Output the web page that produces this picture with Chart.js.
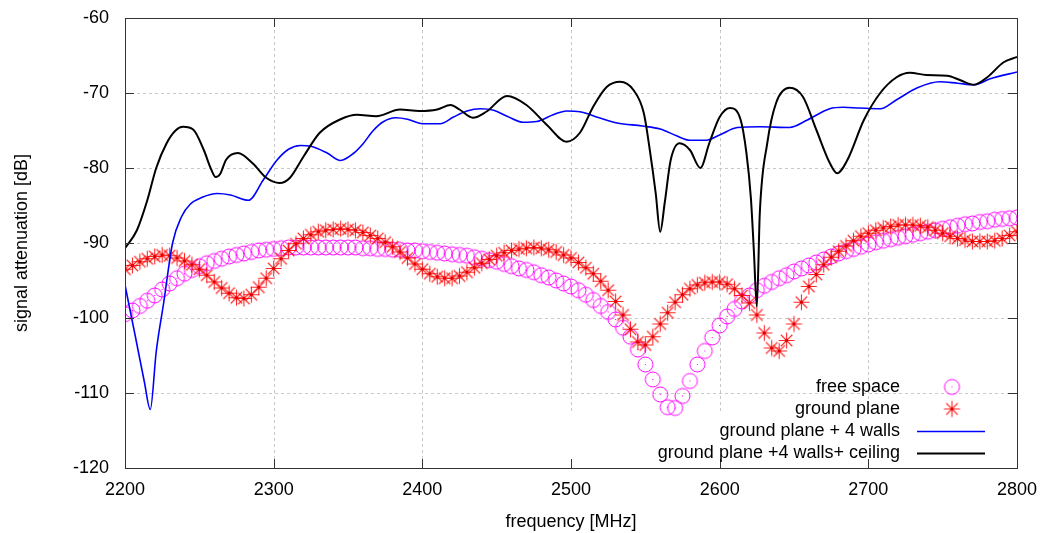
<!DOCTYPE html>
<html>
<head>
<meta charset="utf-8">
<script src="https://cdn.jsdelivr.net/npm/chart.js@4"></script>
<style>
  body { margin: 0; background: #fff; }
  #chart { display: block; }
</style>
</head>
<body>
<canvas id="chart" width="1040" height="533"></canvas>
<script>
// frequency grid of the two point series (MHz)
const freqs = [
  2200, 2205, 2210, 2215, 2220, 2225, 2230, 2235, 2240, 2245, 2250, 2255, 2260, 2265, 2270, 2275, 2280, 2285, 2290, 2295,
  2300, 2305, 2310, 2315, 2320, 2325, 2330, 2335, 2340, 2345, 2350, 2355, 2360, 2365, 2370, 2375, 2380, 2385, 2390, 2395,
  2400, 2405, 2410, 2415, 2420, 2425, 2430, 2435, 2440, 2445, 2450, 2455, 2460, 2465, 2470, 2475, 2480, 2485, 2490, 2495,
  2500, 2505, 2510, 2515, 2520, 2525, 2530, 2535, 2540, 2545, 2550, 2555, 2560, 2565, 2570, 2575, 2580, 2585, 2590, 2595,
  2600, 2605, 2610, 2615, 2620, 2625, 2630, 2635, 2640, 2645, 2650, 2655, 2660, 2665, 2670, 2675, 2680, 2685, 2690, 2695,
  2700, 2705, 2710, 2715, 2720, 2725, 2730, 2735, 2740, 2745, 2750, 2755, 2760, 2765, 2770, 2775, 2780, 2785, 2790, 2795,
  2800
];

const freeSpace = [
  -99.5, -99.0, -98.4, -97.7, -97.0, -96.2, -95.4, -94.7, -94.1, -93.6, -93.1, -92.7, -92.4, -92.1, -91.8, -91.6, -91.4, -91.2, -91.0, -90.9,
  -90.8, -90.7, -90.6, -90.6, -90.6, -90.6, -90.6, -90.6, -90.6, -90.6, -90.6, -90.6, -90.7, -90.7, -90.8, -90.8, -90.9, -90.9, -91.0, -91.0,
  -91.1, -91.2, -91.3, -91.4, -91.5, -91.6, -91.7, -91.9, -92.1, -92.3, -92.5, -92.8, -93.1, -93.4, -93.6, -93.9, -94.3, -94.6, -95.0, -95.4,
  -95.8, -96.3, -96.9, -97.6, -98.4, -99.2, -100.2, -101.3, -102.5, -104.2, -106.2, -108.2, -110.2, -111.9, -112.0, -110.4, -108.4, -106.2, -104.4, -102.6,
  -101.0, -99.8, -98.8, -97.8, -97.0, -96.3, -95.7, -95.2, -94.7, -94.3, -93.8, -93.4, -93.0, -92.6, -92.2, -91.8, -91.4, -91.1, -90.8, -90.5,
  -90.2, -89.9, -89.7, -89.5, -89.3, -89.1, -88.9, -88.7, -88.5, -88.3, -88.1, -87.9, -87.7, -87.5, -87.4, -87.2, -87.1, -86.9, -86.8, -86.7,
  -86.6
];

const groundPlane = [
  -93.5, -93.0, -92.5, -92.1, -91.8, -91.6, -91.7, -92.0, -92.4, -92.9, -93.5, -94.3, -95.2, -96.0, -96.7, -97.3, -97.4, -96.9, -95.9, -94.7,
  -93.4, -92.1, -91.0, -90.1, -89.4, -88.9, -88.5, -88.3, -88.2, -88.1, -88.2, -88.3, -88.6, -89.0, -89.4, -89.9, -90.5, -91.2, -92.0, -92.8,
  -93.5, -94.1, -94.5, -94.7, -94.7, -94.4, -93.9, -93.3, -92.7, -92.2, -91.7, -91.3, -91.0, -90.8, -90.7, -90.6, -90.7, -90.9, -91.2, -91.6,
  -92.0, -92.6, -93.3, -94.1, -95.1, -96.3, -97.8, -99.6, -101.5, -103.2, -103.6, -102.5, -100.8, -99.3, -97.9, -96.9, -96.1, -95.6, -95.3, -95.2,
  -95.2, -95.5, -96.1, -97.0, -98.0, -99.6, -102.0, -104.0, -104.4, -103.0, -100.8, -97.9, -95.8, -94.2, -92.9, -91.9, -91.1, -90.4, -89.7, -89.1,
  -88.7, -88.3, -88.0, -87.8, -87.6, -87.6, -87.6, -87.7, -87.9, -88.3, -88.7, -89.1, -89.4, -89.6, -89.8, -89.8, -89.8, -89.7, -89.4, -89.0,
  -88.5
];

// ground plane + 4 walls
const wallsFreq = [
  2200, 2207, 2213, 2217, 2221, 2226, 2232, 2238, 2244, 2252, 2262, 2271, 2283, 2293, 2302, 2310, 2318, 2325, 2336, 2345,
  2354, 2360, 2367, 2374, 2382, 2390, 2400, 2412, 2421, 2430, 2439, 2448, 2457, 2468, 2477, 2488, 2497, 2506, 2519, 2531,
  2548, 2560, 2571, 2580, 2591, 2600, 2612, 2627, 2647, 2659, 2674, 2683, 2694, 2708, 2719, 2733, 2748, 2760, 2771, 2782,
  2800
];
const wallsDb = [
  -95.6, -102.5, -108.5, -112.2, -104.5, -98.0, -90.0, -86.5, -84.8, -83.9, -83.4, -83.6, -84.3, -81.6, -79.0, -77.5, -77.0, -77.1, -78.0, -79.0,
  -78.0, -76.8, -75.0, -73.8, -73.3, -73.5, -74.1, -74.1, -73.2, -72.4, -72.1, -72.3, -73.1, -73.9, -73.8, -72.9, -72.4, -72.5, -73.3, -74.0,
  -74.4, -74.8, -75.7, -76.3, -76.3, -75.6, -74.6, -74.5, -74.6, -73.6, -72.1, -71.9, -72.0, -72.1, -70.9, -69.3, -68.5, -68.7, -68.9, -68.1,
  -67.2
];

// ground plane + 4 walls + ceiling
const ceilingFreq = [
  2200, 2208, 2215, 2221, 2228, 2234, 2239, 2246, 2253, 2258, 2261, 2264, 2268, 2276, 2286, 2295, 2304, 2311, 2320, 2331,
  2345, 2356, 2369, 2385, 2398, 2410, 2419, 2425, 2434, 2443, 2457, 2470, 2484, 2497, 2506, 2515, 2524, 2533, 2542, 2549,
  2553, 2557, 2560, 2563, 2567, 2573, 2580, 2587, 2593, 2600, 2607, 2614, 2618, 2621, 2623, 2625, 2627, 2632, 2638, 2647,
  2656, 2665, 2674, 2679, 2686, 2697, 2708, 2719, 2728, 2739, 2753, 2762, 2771, 2780, 2791, 2800
];
const ceilingDb = [
  -90.7, -88.3, -84.3, -80.0, -76.7, -75.0, -74.5, -74.9, -77.6, -80.2, -81.2, -80.8, -78.9, -78.0, -79.4, -81.3, -82.0, -81.3, -78.5, -75.3,
  -73.5, -72.9, -73.1, -72.2, -72.4, -72.2, -71.6, -72.2, -73.3, -72.5, -70.4, -71.6, -74.3, -76.5, -75.3, -71.8, -69.2, -68.5, -69.6, -72.7,
  -77.6, -83.4, -88.5, -84.7, -79.0, -76.7, -77.6, -80.0, -76.7, -73.2, -72.0, -73.5, -78.0, -84.0, -91.0, -98.5, -86.0, -76.7, -71.3, -69.3,
  -70.5, -74.9, -79.3, -80.7, -78.9, -73.6, -70.0, -67.9, -67.3, -67.6, -67.7, -68.3, -68.9, -67.9, -65.9, -65.2
];

const seriesNames = ['free space', 'ground plane', 'ground plane + 4 walls', 'ground plane +4 walls+ ceiling'];
const xTicks = [2200, 2300, 2400, 2500, 2600, 2700, 2800];
const yTicks = [-120, -110, -100, -90, -80, -70, -60];

const FONT = "'Liberation Sans', Arial, sans-serif";
const FONT_SIZE = 18;

function pairs(xs, ys) {
  return xs.map((x, i) => ({ x: x, y: ys[i] }));
}

// gnuplot-like markers: open circle with dot, asterisk with dot
function circleMarker() {
  const c = document.createElement('canvas');
  c.width = 19; c.height = 19;
  const g = c.getContext('2d');
  g.strokeStyle = '#ff00ff';
  g.lineWidth = 1;
  g.beginPath();
  g.arc(9.5, 9.5, 7.5, 0, Math.PI * 2);
  g.stroke();
  g.fillStyle = '#ff00ff';
  g.fillRect(9, 9, 1, 1);
  return c;
}

function starMarker() {
  const c = document.createElement('canvas');
  c.width = 19; c.height = 19;
  const g = c.getContext('2d');
  g.strokeStyle = 'rgba(255,0,0,0.85)';
  g.lineWidth = 1.1;
  const r = 8;
  g.beginPath();
  g.moveTo(9.5 - r, 9.5); g.lineTo(9.5 + r, 9.5);
  g.moveTo(9.5, 9.5 - r); g.lineTo(9.5, 9.5 + r);
  g.moveTo(9.5 - r * 0.72, 9.5 - r * 0.72); g.lineTo(9.5 + r * 0.72, 9.5 + r * 0.72);
  g.moveTo(9.5 - r * 0.72, 9.5 + r * 0.72); g.lineTo(9.5 + r * 0.72, 9.5 - r * 0.72);
  g.stroke();
  g.fillStyle = '#e00000';
  g.fillRect(8, 8, 3, 3);
  return c;
}

const circleImg = circleMarker();
const starImg = starMarker();

// key area inside the plot where the grid is not drawn
const keyBox = { x1: 2416, y1: -112.7 };

const gnuplotFrame = {
  id: 'gnuplotFrame',
  beforeDatasetsDraw(chart) {
    const { ctx, chartArea: a, scales: { x, y } } = chart;
    ctx.save();
    ctx.strokeStyle = '#c8c8c8';
    ctx.lineWidth = 1;
    ctx.setLineDash([3, 3]);
    const kx = x.getPixelForValue(keyBox.x1);
    const ky = y.getPixelForValue(keyBox.y1);
    ctx.beginPath();
    xTicks.slice(1, -1).forEach(v => {
      const px = Math.round(x.getPixelForValue(v)) + 0.5;
      ctx.moveTo(px, a.top);
      ctx.lineTo(px, px > kx ? ky : a.bottom);
    });
    yTicks.slice(1, -1).forEach(v => {
      const py = Math.round(y.getPixelForValue(v)) + 0.5;
      ctx.moveTo(a.left, py);
      ctx.lineTo(py > ky ? kx : a.right, py);
    });
    ctx.stroke();
    ctx.restore();
  },
  afterDraw(chart) {
    const { ctx, chartArea: a, scales: { x, y } } = chart;
    ctx.save();
    // frame
    ctx.strokeStyle = '#333';
    ctx.lineWidth = 1;
    ctx.strokeRect(Math.round(a.left) + 0.5, Math.round(a.top) + 0.5,
      Math.round(a.right - a.left), Math.round(a.bottom - a.top));
    // inward ticks on all four sides
    const tl = 9;
    ctx.beginPath();
    xTicks.forEach(v => {
      const px = Math.round(x.getPixelForValue(v)) + 0.5;
      ctx.moveTo(px, a.bottom); ctx.lineTo(px, a.bottom - tl);
      ctx.moveTo(px, a.top); ctx.lineTo(px, a.top + tl);
    });
    yTicks.forEach(v => {
      const py = Math.round(y.getPixelForValue(v)) + 0.5;
      ctx.moveTo(a.left, py); ctx.lineTo(a.left + tl, py);
      ctx.moveTo(a.right, py); ctx.lineTo(a.right - tl, py);
    });
    ctx.stroke();

    // key, gnuplot style: right aligned text, sample on the right
    ctx.font = FONT_SIZE + 'px ' + FONT;
    ctx.fillStyle = '#000';
    ctx.textAlign = 'right';
    ctx.textBaseline = 'middle';
    const rows = [387, 409, 431, 453];
    const textRight = 900;
    chart.data.datasets.forEach((ds, i) => {
      const ry = rows[i];
      ctx.fillText(seriesNames[i], textRight, ry);
      if (ds.showLine) {
        ctx.strokeStyle = ds.borderColor;
        ctx.lineWidth = ds.borderWidth;
        ctx.beginPath();
        ctx.moveTo(917, ry + 0.5);
        ctx.lineTo(985, ry + 0.5);
        ctx.stroke();
      } else {
        const img = ds.pointStyle;
        ctx.drawImage(img, 952 - img.width / 2, ry - img.height / 2);
      }
    });
    ctx.restore();
  }
};

new Chart(document.getElementById('chart'), {
  type: 'scatter',
  data: {
    datasets: [
      {
        label: seriesNames[0],
        data: pairs(freqs, freeSpace),
        showLine: false,
        pointStyle: circleImg,
        pointRadius: 8,
        order: 4
      },
      {
        label: seriesNames[1],
        data: pairs(freqs, groundPlane),
        showLine: false,
        pointStyle: starImg,
        pointRadius: 8,
        order: 3
      },
      {
        label: seriesNames[2],
        data: pairs(wallsFreq, wallsDb),
        showLine: true,
        borderColor: '#0000ff',
        borderWidth: 1.6,
        pointRadius: 0,
        cubicInterpolationMode: 'monotone',
        order: 2
      },
      {
        label: seriesNames[3],
        data: pairs(ceilingFreq, ceilingDb),
        showLine: true,
        borderColor: '#000000',
        borderWidth: 2,
        pointRadius: 0,
        cubicInterpolationMode: 'monotone',
        order: 1
      }
    ]
  },
  options: {
    responsive: false,
    animation: false,
    events: [],
    layout: { padding: { left: 0, right: 23, top: 18, bottom: 0 } },
    plugins: {
      legend: { display: false },
      tooltip: { enabled: false }
    },
    scales: {
      x: {
        type: 'linear',
        min: 2200,
        max: 2800,
        afterFit(scale) {
          scale.height = 65;
          scale.paddingLeft = 0;
          scale.paddingRight = 0;
        },
        afterBuildTicks(scale) { scale.ticks = xTicks.map(v => ({ value: v })); },
        ticks: {
          color: '#000',
          padding: 11,
          font: { family: FONT, size: FONT_SIZE },
          callback: v => String(v)
        },
        grid: { display: false, drawTicks: false },
        border: { display: false },
        title: {
          display: true,
          text: 'frequency [MHz]',
          color: '#000',
          padding: { top: 0, bottom: 0 },
          font: { family: FONT, size: FONT_SIZE }
        }
      },
      y: {
        min: -120,
        max: -60,
        afterFit(scale) {
          scale.width = 125;
          scale.paddingTop = 0;
          scale.paddingBottom = 0;
        },
        afterBuildTicks(scale) { scale.ticks = yTicks.map(v => ({ value: v })); },
        ticks: {
          color: '#000',
          padding: 16,
          font: { family: FONT, size: FONT_SIZE },
          callback: v => String(v)
        },
        grid: { display: false, drawTicks: false },
        border: { display: false },
        title: {
          display: true,
          text: 'signal attenuation [dB]',
          color: '#000',
          padding: { top: 11, bottom: 0 },
          font: { family: FONT, size: FONT_SIZE }
        }
      }
    }
  },
  plugins: [gnuplotFrame]
});
</script>
</body>
</html>
